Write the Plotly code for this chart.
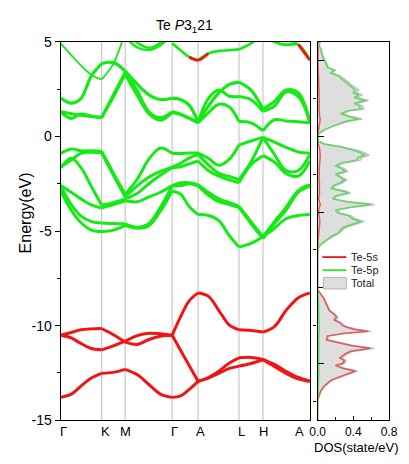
import plotly.graph_objects as go

# ---------------- k-path ----------------
k_path = [0, 11, 21, 32, 42.7, 55, 67.3, 80, 92, 104, 116.3, 125, 134, 143.3,
          154, 165, 176, 186, 198.5, 211, 223, 235, 248, 260]
hs_k = [0, 42.7, 67.3, 116.3, 143.3, 186, 211, 260]
hs_labels = ["Γ", "K", "M", "Γ", "A", "L", "H", "A"]
# label anchor positions along the path (text placement below the axis)
hs_label_k = [2.5, 47, 67.3, 118.5, 145.5, 189, 212, 249]

# ---------------- Te-5s bands (eV) ----------------
s_band_1 = [-13.79, -13.62, -13.2, -12.77, -12.52, -12.47, -12.31, -12.6, -13.11, -13.62,
            -13.79, -13.71, -13.37, -12.94, -12.77, -12.52, -12.26, -12.14, -12.0, -11.8,
            -12.16, -12.52, -12.81, -12.94]
s_band_2 = [-10.51, -10.65, -10.94, -11.21, -11.28, -11.07, -10.82, -10.53, -10.4, -10.43,
            -10.51, -11.3, -12.1, -12.94, -12.74, -12.41, -11.97, -11.7, -11.68, -11.78,
            -12.05, -12.41, -12.74, -12.94]
s_band_3 = [-10.51, -10.36, -10.22, -10.17, -10.15, -10.48, -10.87, -10.99, -10.73, -10.56,
            -10.51, -9.54, -8.69, -8.27, -8.44, -9.2, -9.97, -10.22, -10.26, -10.34,
            -10.05, -9.2, -8.52, -8.27]

# ---------------- Te-5p valence bands (eV) ----------------
p_val_1 = [-0.9, -0.66, -0.76, -0.76, -0.78, -1.94, -3.05, -2.25, -1.2, -0.62,
           -0.9, -0.9, -0.88, -0.88, -1.15, -1.53, -1.2, -0.45, -0.24, -0.05,
           -0.3, -0.58, -0.82, -0.88]
p_val_2 = [-1.62, -1.25, -0.9, -0.84, -0.87, -2.05, -3.2, -2.6, -2.15, -1.85,
           -1.62, -1.42, -1.15, -0.95, -1.5, -1.95, -2.12, -2.28, -1.35, -0.05,
           -0.95, -1.8, -1.8, -0.95]
p_val_3 = [-1.66, -1.15, -1.64, -2.65, -3.64, -3.5, -3.3, -3.0, -2.5, -2.05,
           -1.66, -1.6, -1.45, -1.3, -1.8, -2.1, -2.3, -2.45, -1.5, -1.02,
           -1.36, -1.95, -2.1, -1.3]
p_val_4 = [-2.6, -2.95, -3.3, -3.62, -3.78, -3.6, -3.4, -3.45, -3.2, -2.95,
           -2.6, -2.45, -2.45, -2.55, -2.95, -3.3, -3.5, -3.68, -4.5, -5.3,
           -4.5, -3.75, -2.85, -2.55]
p_val_5 = [-2.62, -3.6, -4.2, -4.5, -4.57, -4.6, -4.62, -4.8, -4.6, -3.75,
           -2.62, -2.6, -2.5, -2.62, -3.1, -3.45, -3.6, -3.75, -4.6, -5.4,
           -4.6, -3.9, -2.95, -2.62]
p_val_6 = [-2.88, -3.9, -4.55, -4.95, -5.03, -4.95, -4.7, -4.85, -4.72, -3.95,
           -2.88, -3.05, -3.7, -4.13, -4.18, -4.45, -5.25, -5.85, -5.65, -5.3,
           -4.85, -4.35, -4.18, -4.13]

# ---------------- conduction bands (eV) ----------------
p_con_1 = [1.28, 0.95, 1.18, 1.08, 1.0, 2.1, 3.28, 2.15, 1.2, 0.85,
           1.28, 1.15, 0.95, 0.72, 1.25, 1.7, 1.55, 0.78, 0.72, 0.3,
           0.88, 0.82, 0.78, 0.72]
p_con_2 = [1.3, 1.2, 1.12, 1.05, 1.0, 2.2, 3.4, 2.4, 1.3, 0.98,
           1.3, 1.17, 0.97, 0.74, 2.0, 2.45, 2.12, 2.11, 1.94, 1.32,
           1.6, 2.35, 2.1, 0.74]
p_con_3 = [2.03, 1.76, 2.0, 3.2, 3.85, 3.9, 3.45, 2.75, 2.2, 1.95,
           2.02, 1.95, 1.65, 0.76, 1.6, 2.3, 2.75, 2.87, 2.45, 1.45,
           1.85, 2.45, 2.3, 0.76]
N = None
upper_1 = [4.92, 4.3, 3.75, 3.25, 3.01, 3.85, 5.55, N, N, N, N, N, N, N, N, N, N, N, N, N, N, N, N, N]
upper_2 = [N, N, N, N, N, N, 5.25, 4.7, 4.57, 4.82, 5.4, N, N, N, N, N, N, N, N, N, N, N, N, N]
upper_3 = [N, N, N, N, N, N, 5.5, 4.95, 4.68, 4.95, 5.6, N, N, N, N, N, N, N, N, N, N, N, N, N]
upper_4 = [N, N, N, N, N, N, N, N, N, N, 4.92, 4.55, 4.2, 4.03, 4.38, 4.52, 4.55, 4.6, 4.92, 5.4,
           5.0, 4.83, 4.85, 4.03]
upper_5 = [N, N, N, N, N, N, N, N, N, N, N, N, N, N, N, N, N, N, N, 5.5, 5.02, 4.85, 5.05, 5.6]

# ---------------- DOS (state/eV) ----------------
dos_energy = [5.0, 4.8, 4.6, 4.4, 4.2, 4.0, 3.8, 3.65, 3.5, 3.35, 3.2, 3.05, 2.9, 2.75, 2.6,
              2.45, 2.3, 2.2, 2.05, 1.9, 1.75, 1.6, 1.45, 1.35, 1.2, 1.05, 0.92, 0.8, 0.65, 0.5,
              0.35, 0.2, 0.05,
              -0.1, -0.25, -0.4, -0.55, -0.7, -0.85, -1.0, -1.1, -1.25, -1.4, -1.55, -1.7, -1.85,
              -2.0, -2.15, -2.3, -2.45, -2.6, -2.75, -2.9, -3.0, -3.15, -3.3, -3.45, -3.6, -3.75,
              -3.9, -4.05, -4.2, -4.35, -4.5, -4.65, -4.8, -4.95, -5.1, -5.3, -5.5, -5.7, -5.9,
              -6.1, -8.1,
              -8.25, -8.4, -8.6, -8.8, -9.0, -9.2, -9.4, -9.55, -9.7, -9.85, -10.0, -10.1, -10.2,
              -10.3, -10.42, -10.55, -10.75, -10.9, -11.05, -11.2, -11.35, -11.5, -11.7, -11.85,
              -12.0, -12.1, -12.25, -12.4, -12.55, -12.7, -12.85, -13.0, -13.2, -13.45, -13.7,
              -13.9, -14.1, -15.0]
dos_total = [0.03, 0.02, 0.04, 0.05, 0.065, 0.09, 0.11, 0.12, 0.2, 0.16, 0.25, 0.3, 0.34, 0.37, 0.41,
             0.46, 0.43, 0.5, 0.44, 0.57, 0.44, 0.5, 0.52, 0.36, 0.28, 0.38, 0.5, 0.35, 0.25, 0.15,
             0.08, 0.03, 0.005,
             0.0, 0.01, 0.08, 0.28, 0.42, 0.52, 0.58, 0.5, 0.48, 0.3, 0.22, 0.3, 0.34, 0.22, 0.27,
             0.33, 0.28, 0.2, 0.17, 0.32, 0.37, 0.22, 0.19, 0.35, 0.64, 0.38, 0.22, 0.25, 0.38,
             0.42, 0.52, 0.42, 0.32, 0.28, 0.25, 0.17, 0.1, 0.04, 0.01, 0.0, 0.0,
             0.02, 0.05, 0.08, 0.1, 0.12, 0.14, 0.2, 0.23, 0.2, 0.27, 0.3, 0.36, 0.45, 0.6, 0.3,
             0.12, 0.11, 0.25, 0.4, 0.63, 0.4, 0.33, 0.27, 0.32, 0.3, 0.22, 0.3, 0.45, 0.36, 0.25,
             0.18, 0.13, 0.08, 0.04, 0.015, 0.003, 0.0, 0.0]
dos_te5p = [0.025, 0.017, 0.034, 0.043, 0.055, 0.08, 0.1, 0.11, 0.18, 0.145, 0.23, 0.27, 0.31, 0.34,
            0.38, 0.42, 0.4, 0.46, 0.41, 0.53, 0.41, 0.47, 0.48, 0.33, 0.26, 0.35, 0.46, 0.32, 0.23,
            0.14, 0.075, 0.028, 0.004,
            0.0, 0.009, 0.07, 0.25, 0.38, 0.47, 0.53, 0.46, 0.44, 0.27, 0.2, 0.27, 0.31, 0.2, 0.25,
            0.3, 0.25, 0.18, 0.15, 0.29, 0.34, 0.2, 0.17, 0.32, 0.6, 0.35, 0.2, 0.23, 0.35, 0.39,
            0.48, 0.39, 0.29, 0.26, 0.23, 0.15, 0.09, 0.035, 0.008, 0.0, 0.0,
            0.004, 0.006, 0.008, 0.01, 0.012, 0.012, 0.014, 0.014, 0.012, 0.014, 0.015, 0.016,
            0.018, 0.02, 0.015, 0.01, 0.01, 0.014, 0.016, 0.02, 0.016, 0.014, 0.012, 0.014, 0.014,
            0.012, 0.014, 0.016, 0.014, 0.012, 0.01, 0.008, 0.006, 0.005, 0.003, 0.002, 0.0, 0.0]
dos_te5s = [0.004, 0.003, 0.004, 0.005, 0.005, 0.006, 0.005, 0.006, 0.008, 0.007, 0.01, 0.012, 0.012,
            0.012, 0.015, 0.016, 0.014, 0.018, 0.015, 0.02, 0.016, 0.018, 0.02, 0.015, 0.018, 0.022,
            0.03, 0.025, 0.02, 0.012, 0.006, 0.003, 0.001,
            0.0, 0.001, 0.006, 0.02, 0.025, 0.03, 0.03, 0.028, 0.025, 0.018, 0.015, 0.018, 0.02,
            0.015, 0.015, 0.02, 0.02, 0.015, 0.012, 0.02, 0.022, 0.015, 0.012, 0.02, 0.03, 0.02,
            0.012, 0.014, 0.02, 0.022, 0.025, 0.022, 0.018, 0.016, 0.015, 0.01, 0.006, 0.003,
            0.001, 0.0, 0.0,
            0.018, 0.045, 0.072, 0.09, 0.11, 0.13, 0.185, 0.21, 0.185, 0.25, 0.28, 0.335, 0.42,
            0.565, 0.28, 0.11, 0.1, 0.23, 0.37, 0.59, 0.37, 0.305, 0.25, 0.3, 0.28, 0.2, 0.28,
            0.42, 0.335, 0.23, 0.165, 0.12, 0.072, 0.035, 0.012, 0.002, 0.0, 0.0]

# ---------------- styling ----------------
FONT = "Arial, 'Liberation Sans', sans-serif"
GREEN = "#14eb14"
RED = "#f01414"
W, H = 409, 464
band_x = [55 / W, 315 / W]
dos_x = [323 / W, 397.5 / W]
plot_y = [1 - 427 / H, 1 - 35 / H]

hs_index = [k_path.index(k) for k in hs_k]


def along_path(energies):
    """Split a band at the high-symmetry points so each leg is smoothed on its own."""
    xs, ys = [], []
    for a, b in zip(hs_index[:-1], hs_index[1:]):
        xs += k_path[a:b + 1] + [None]
        ys += energies[a:b + 1] + [None]
    return xs, ys


fig = go.Figure()

bands = [(s_band_1, RED, 3), (s_band_2, RED, 3), (s_band_3, RED, 3),
         (p_val_1, GREEN, 3), (p_val_2, GREEN, 3), (p_val_3, GREEN, 3),
         (p_val_4, GREEN, 3), (p_val_5, GREEN, 3), (p_val_6, GREEN, 3),
         (p_con_1, GREEN, 3), (p_con_2, GREEN, 3), (p_con_3, GREEN, 3.2),
         (upper_1, GREEN, 1.8), (upper_2, GREEN, 2.4), (upper_3, GREEN, 2.4),
         (upper_4, GREEN, 2.6), (upper_5, GREEN, 2.2)]
for energies, color, width in bands:
    xs, ys = along_path(energies)
    fig.add_trace(go.Scatter(x=xs, y=ys, mode="lines", xaxis="x", yaxis="y",
                             line=dict(color=color, width=width, shape="spline", smoothing=1.0),
                             showlegend=False, hoverinfo="skip"))

# s-character of the upper band around A
for i0, i1 in [(12, 14), (22, 23)]:
    fig.add_trace(go.Scatter(x=k_path[i0:i1 + 1], y=upper_4[i0:i1 + 1], mode="lines",
                             xaxis="x", yaxis="y",
                             line=dict(color=RED, width=2.8, shape="spline"),
                             showlegend=False, hoverinfo="skip"))

# ---------------- DOS panel ----------------
fig.add_trace(go.Scatter(x=dos_total, y=dos_energy, mode="lines", fill="tozerox",
                         fillcolor="#dedede", line=dict(color="#bdbdbd", width=1.4),
                         xaxis="x2", yaxis="y2", showlegend=False, hoverinfo="skip"))
fig.add_trace(go.Scatter(x=dos_te5s, y=dos_energy, mode="lines",
                         line=dict(color="#e05a5a", width=1.5),
                         xaxis="x2", yaxis="y2", showlegend=False, hoverinfo="skip"))
fig.add_trace(go.Scatter(x=dos_te5p, y=dos_energy, mode="lines",
                         line=dict(color="#62d862", width=1.5),
                         xaxis="x2", yaxis="y2", showlegend=False, hoverinfo="skip"))

# high-symmetry guide lines
shapes = []
for k in hs_k[1:-1]:
    shapes.append(dict(type="line", xref="x", yref="y", x0=k, x1=k, y0=-15, y1=5,
                       line=dict(color="#c8c8c8", width=1.2), layer="below"))

# legend drawn inside the DOS panel
legend_items = [("Te-5s", "line", RED, 258), ("Te-5p", "line", "#2ee82e", 271.5), ("Total", "box", None, 285)]
annotations = []
for name, kind, color, yc in legend_items:
    if kind == "line":
        shapes.append(dict(type="line", xref="paper", yref="paper",
                           x0=328 / W, x1=353 / W, y0=1 - yc / H, y1=1 - yc / H,
                           line=dict(color=color, width=1.8)))
    else:
        shapes.append(dict(type="rect", xref="paper", yref="paper",
                           x0=329 / W, x1=353 / W, y0=1 - (yc + 6) / H, y1=1 - (yc - 6) / H,
                           fillcolor="#dedede", line=dict(color="#b4b4b4", width=1)))
    annotations.append(dict(text=name, xref="paper", yref="paper", x=356 / W, y=1 - yc / H,
                            xanchor="left", yanchor="middle", showarrow=False,
                            font=dict(family=FONT, size=11, color="#222")))

# k-point labels under the band panel
for lab, kx in zip(hs_labels, hs_label_k):
    annotations.append(dict(text=lab, xref="x", yref="paper", x=kx, y=1 - 439 / H,
                            xanchor="center", yanchor="middle", showarrow=False,
                            font=dict(family=FONT, size=13, color="black")))

annotations += [
    dict(text="Te <i>P</i>3<sub>1</sub>21", xref="paper", yref="paper", x=184 / W, y=1 - 19 / H,
         xanchor="center", yanchor="middle", showarrow=False,
         font=dict(family=FONT, size=14, color="black")),
    dict(text="Energy(eV)", xref="paper", yref="paper", x=18.5 / W, y=1 - 212 / H,
         xanchor="center", yanchor="middle", textangle=-90, showarrow=False,
         font=dict(family=FONT, size=16, color="black")),
    dict(text="DOS(state/eV)", xref="paper", yref="paper", x=364 / W, y=1 - 455 / H,
         xanchor="center", yanchor="middle", showarrow=False,
         font=dict(family=FONT, size=13, color="black")),
]

axis_common = dict(showgrid=False, zeroline=False, showline=True, mirror=True,
                   linecolor="black", linewidth=1.3, tickcolor="black", tickwidth=1.3)

fig.update_layout(
    width=W, height=H, margin=dict(l=0, r=0, t=0, b=0),
    paper_bgcolor="white", plot_bgcolor="white",
    font=dict(family=FONT, color="black"),
    xaxis=dict(domain=band_x, range=[0, 260], tickmode="array", tickvals=hs_k,
               showticklabels=False, ticks="", anchor="y", **axis_common),
    yaxis=dict(domain=plot_y, range=[-15, 5], tickmode="array",
               tickvals=[-15, -10, -5, 0, 5], ticktext=["-15", "-10", "-5", "0", "5"],
               ticks="outside", ticklen=5, tickfont=dict(size=14), anchor="x",
               minor=dict(tickmode="array", tickvals=[-12.5, -7.5, -2.5, 2.5],
                          ticks="outside", ticklen=3, tickwidth=1.2, tickcolor="black"),
               **axis_common),
    xaxis2=dict(domain=dos_x, range=[0, 0.8], tickmode="array", tickvals=[0, 0.4, 0.8],
                ticktext=["0.0", "0.4", "0.8"], ticks="inside", ticklen=4,
                tickfont=dict(size=12), anchor="y2",
                minor=dict(tickmode="array", tickvals=[0.2, 0.6], ticks="inside",
                           ticklen=3, tickwidth=1.2, tickcolor="black"),
                **axis_common),
    yaxis2=dict(domain=plot_y, range=[-15, 5], tickmode="array", tickvals=[4, 0, -4, -8, -12],
                ticks="inside", ticklen=6, showticklabels=False, anchor="x2",
                minor=dict(tickmode="array", tickvals=[2, -2, -6, -10, -14], ticks="outside",
                           ticklen=3, tickwidth=1.2, tickcolor="black"),
                **axis_common),
    shapes=shapes,
    annotations=annotations,
)

fig.write_html("out.html")
